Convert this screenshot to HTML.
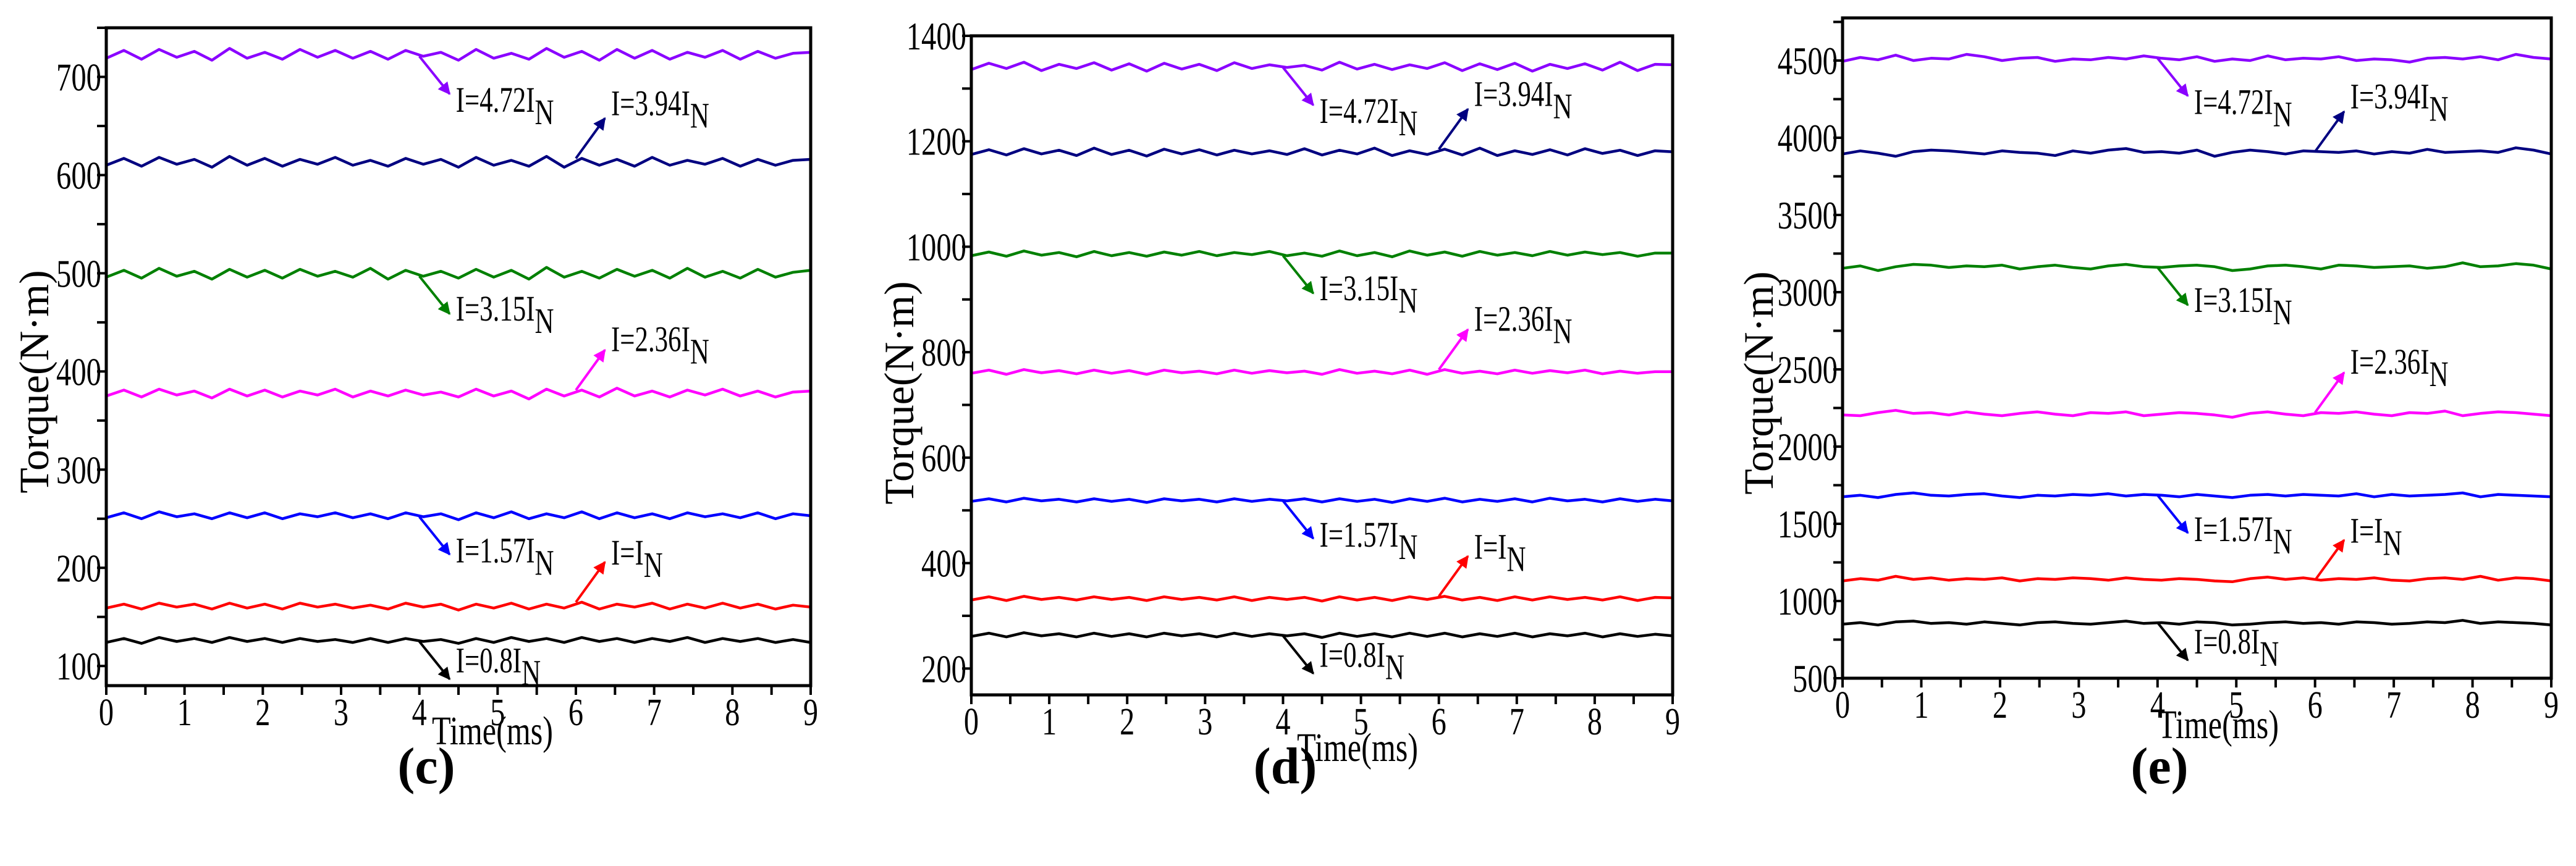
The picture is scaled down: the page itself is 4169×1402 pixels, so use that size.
<!DOCTYPE html>
<html><head><meta charset="utf-8"><style>
html,body{margin:0;padding:0;background:#fff;}
svg{display:block;font-family:"Liberation Serif","DejaVu Serif",serif;}
</style></head>
<body>
<svg id="fig" width="4169" height="1402" viewBox="0 0 4169 1402" xmlns="http://www.w3.org/2000/svg" font-family="'Liberation Serif', serif"></svg>
<script>
// ---------- data ----------
const timeMs = [0,0.225,0.45,0.675,0.9,1.125,1.35,1.575,1.8,2.025,2.25,2.475,2.7,2.925,3.15,3.375,3.6,3.825,4.05,4.275,4.5,4.725,4.95,5.175,5.4,5.625,5.85,6.075,6.3,6.525,6.75,6.975,7.2,7.425,7.65,7.875,8.1,8.325,8.55,8.775,9];
const seriesLabels = ["4.72","3.94","3.15","2.36","1.57","","0.8"];
const seriesColors = ["#8a00ff","#000080","#008000","#ff00ff","#0000ff","#ff0000","#000000"];

// panel (c)
const cPurple=[719,727,718,728,720,726,717,729,719,725,718,728,720,727,719,726,718,727,721,725,717,728,719,724,718,729,720,726,717,728,719,727,718,725,720,727,718,726,719,724,725];
const cNavy=[610,617,609,618,611,616,608,619,610,617,609,616,611,618,610,615,609,617,611,616,608,618,610,615,609,619,608,617,610,616,609,618,610,615,611,617,609,616,610,615,616];
const cGreen=[496,503,495,505,497,502,494,504,496,503,495,504,497,502,496,505,494,503,497,502,495,504,496,503,494,506,496,502,495,504,497,503,495,505,496,502,495,504,496,501,503];
const cMagenta=[375,381,374,382,376,380,373,382,375,381,374,380,376,382,374,380,375,381,376,379,374,382,375,380,372,382,375,381,374,383,375,380,374,381,376,382,375,380,374,379,380];
const cBlue=[251,256,250,257,252,255,250,256,251,256,250,255,252,256,251,255,250,256,252,255,249,256,251,257,250,255,251,257,250,256,251,255,250,256,252,255,251,256,250,255,253];
const cRed=[159,163,158,164,160,163,158,164,159,163,158,164,160,163,159,162,158,164,160,163,157,163,159,164,158,163,159,165,158,163,160,164,158,163,159,164,159,163,158,162,160];
const cBlack=[124,128,123,129,125,128,124,129,125,128,124,128,125,127,124,128,124,128,125,127,123,128,124,129,125,128,124,129,125,128,124,128,125,129,124,128,125,128,124,127,124];
const cTicks=[100,200,300,400,500,600,700];

// panel (d)
const dPurple=[1336,1348,1338,1350,1334,1346,1338,1349,1335,1347,1333,1348,1337,1346,1334,1349,1338,1345,1340,1344,1335,1350,1337,1346,1336,1345,1338,1349,1334,1347,1336,1348,1333,1346,1338,1347,1335,1350,1334,1346,1345];
const dNavy=[1175,1184,1174,1186,1176,1183,1173,1187,1175,1183,1172,1185,1176,1184,1174,1183,1176,1182,1175,1186,1174,1183,1176,1187,1173,1182,1175,1185,1174,1187,1173,1182,1175,1184,1174,1186,1177,1183,1173,1182,1180];
const dGreen=[983,990,982,992,984,989,981,991,983,989,982,990,984,991,983,989,985,991,983,988,982,992,983,989,981,992,984,990,982,991,984,989,983,991,984,990,985,989,982,988,988];
const dMagenta=[760,766,758,767,761,765,759,766,760,765,758,766,761,764,759,766,760,765,761,764,758,767,760,764,759,766,758,767,760,764,759,766,760,765,761,766,759,764,760,763,763];
const dBlue=[517,522,516,523,518,521,516,522,517,521,515,522,518,521,516,522,517,521,518,522,516,522,517,521,515,522,517,523,516,521,517,522,516,523,518,521,516,522,517,521,518];
const dRed=[330,336,329,337,331,335,330,336,331,335,329,336,331,335,330,336,329,335,331,335,328,336,330,335,329,336,331,337,330,335,329,336,330,336,331,335,330,336,329,335,334];
const dBlack=[261,267,260,268,262,266,260,267,261,266,260,267,262,266,260,267,261,266,262,266,259,267,261,266,260,267,261,267,260,266,261,267,260,266,262,267,260,266,261,265,262];
const dTicks=[200,400,600,800,1000,1200,1400];

// panel (e)
const ePurple=[4495,4520,4505,4535,4500,4515,4510,4540,4525,4500,4515,4520,4495,4510,4505,4520,4510,4530,4515,4505,4525,4495,4510,4500,4530,4505,4515,4510,4525,4500,4510,4505,4490,4515,4520,4510,4525,4505,4540,4520,4510];
const eNavy=[3895,3915,3900,3880,3910,3920,3915,3905,3895,3915,3905,3900,3885,3915,3900,3920,3930,3905,3910,3900,3920,3880,3905,3920,3910,3895,3915,3910,3905,3915,3895,3910,3900,3925,3905,3910,3915,3905,3935,3920,3895];
const eGreen=[3155,3170,3140,3165,3180,3175,3160,3170,3165,3175,3150,3165,3175,3160,3150,3170,3180,3165,3160,3170,3175,3165,3140,3150,3170,3175,3165,3150,3175,3170,3160,3165,3170,3155,3165,3190,3165,3170,3185,3175,3150];
const eMagenta=[2205,2200,2220,2235,2215,2220,2205,2225,2210,2200,2215,2225,2210,2200,2220,2215,2225,2200,2210,2220,2215,2205,2190,2215,2225,2210,2200,2220,2215,2225,2210,2200,2220,2215,2230,2200,2215,2225,2220,2210,2200];
const eBlue=[1675,1685,1670,1690,1700,1685,1680,1690,1695,1680,1670,1685,1680,1690,1685,1695,1680,1690,1685,1675,1690,1680,1670,1685,1690,1680,1690,1685,1680,1695,1675,1690,1680,1685,1690,1700,1675,1690,1685,1680,1675];
const eRed=[1130,1145,1135,1160,1140,1150,1135,1145,1140,1150,1130,1145,1140,1150,1145,1135,1150,1140,1135,1145,1140,1130,1125,1145,1155,1140,1150,1135,1145,1140,1150,1135,1130,1145,1150,1140,1160,1135,1150,1145,1130];
const eBlack=[850,860,845,865,870,855,860,850,865,855,845,860,865,855,850,860,870,855,860,850,865,860,845,850,860,865,855,860,850,865,860,850,855,865,860,875,855,865,860,855,845];
const eTicks=[500,1000,1500,2000,2500,3000,3500,4000,4500];

const xTicks=[0,1,2,3,4,5,6,7,8,9];
const arrowTimes=[4.0,6.0,4.0,6.0,4.0,6.0,4.0];
const arrowDown=[true,false,true,false,true,false,true];

// ---------- layout ----------
const FONT="'Liberation Serif', 'DejaVu Serif', serif";
const labelBaseOff=[29,-5,11,2,13,4,-11];
const panels=[
 {id:"c",L:172,R:1312,T:45,B:1110,ymin:80,ymax:750,minor:50,ticks:cTicks,
  series:[cPurple,cNavy,cGreen,cMagenta,cBlue,cRed,cBlack],
  titleX:54,titleY:618,timeX:797,timeY:1205,capX:690,capY:1268},
 {id:"d",L:1572,R:2707,T:58,B:1125,ymin:150,ymax:1400,minor:100,ticks:dTicks,
  series:[dPurple,dNavy,dGreen,dMagenta,dBlue,dRed,dBlack],
  titleX:1454,titleY:636,timeX:2197,timeY:1232,capX:2080,capY:1268},
 {id:"e",L:2982,R:4129,T:29,B:1098,ymin:500,ymax:4776,minor:250,ticks:eTicks,
  series:[ePurple,eNavy,eGreen,eMagenta,eBlue,eRed,eBlack],
  titleX:2845,titleY:620,timeX:3590,timeY:1195,capX:3495,capY:1268}
];
const NS="http://www.w3.org/2000/svg";
const svg=document.getElementById("fig");
function mk(tag,attrs,parent){const e=document.createElementNS(NS,tag);for(const k in attrs)e.setAttribute(k,attrs[k]);(parent||svg).appendChild(e);return e;}

const defs=mk("defs",{});
seriesColors.forEach((c,i)=>{
  const m=mk("marker",{id:"ah"+i,viewBox:"0 0 10 10",refX:"9",refY:"5",markerWidth:"5",markerHeight:"5",orient:"auto",markerUnits:"strokeWidth"},defs);
  mk("path",{d:"M0,0 L10,5 L0,10 z",fill:c},m);
});

panels.forEach(p=>{
  const g=mk("g",{"font-family":FONT});
  
  
  const sx=t=>p.L+(t-0)/(9-0)*(p.R-p.L);
  const sy=v=>p.B-(v-p.ymin)/(p.ymax-p.ymin)*(p.B-p.T);

  p.series.forEach((vals,si)=>{
    let d="";
    vals.forEach((v,k)=>{d+=(k?"L":"M")+sx(timeMs[k]).toFixed(1)+","+sy(v).toFixed(1);});
    const path=mk("path",{d:d,fill:"none",stroke:seriesColors[si],"stroke-width":"4.5","stroke-linejoin":"round"},g);
    
    
  });

  const fr=mk("rect",{x:p.L,y:p.T,width:p.R-p.L,height:p.B-p.T,fill:"none",stroke:"#000","stroke-width":"5"},g);
  
  

  for(let t=0;t<=9;t+=0.5){
    mk("line",{x1:sx(t),x2:sx(t),y1:p.B,y2:p.B+15,stroke:"#000","stroke-width":"4"},g);
  }
  xTicks.forEach(t=>{
    const tx=mk("text",{x:0,y:0,"font-family":FONT,"font-size":"62","text-anchor":"middle",transform:`translate(${sx(t)},${p.B+64}) scale(0.78,1)`},g);
    tx.textContent=t;
    
    
  });
  for(let v=Math.ceil(p.ymin/p.minor)*p.minor; v<=p.ymax; v+=p.minor){
    mk("line",{x1:p.L-15,x2:p.L,y1:sy(v),y2:sy(v),stroke:"#000","stroke-width":"4"},g);
  }
  p.ticks.forEach(v=>{
    const tx=mk("text",{x:0,y:0,"font-family":FONT,"font-size":"64","text-anchor":"end",transform:`translate(${p.L-8},${sy(v)+22}) scale(0.76,1)`},g);
    tx.textContent=v;
    
    
  });

  const yt=mk("text",{x:0,y:0,"font-family":FONT,"font-size":"68","text-anchor":"middle",transform:`translate(${p.titleX+24},${p.titleY}) rotate(-90)`},g);
  yt.textContent="Torque(N\u00B7m)";
  
  
  const xt=mk("text",{x:0,y:0,"font-family":FONT,"font-size":"66","text-anchor":"middle",transform:`translate(${p.timeX},${p.timeY}) scale(0.76,1)`},g);
  xt.textContent="Time(ms)";
  
  

  const cap=mk("text",{x:p.capX,y:p.capY,"font-family":FONT,"font-size":"84","font-weight":"bold","text-anchor":"middle"},g);
  cap.textContent="("+p.id+")";
  
  

  p.series.forEach((vals,si)=>{
    const t0=arrowTimes[si];
    let k=0;for(let j=0;j<timeMs.length;j++){if(Math.abs(timeMs[j]-t0)<Math.abs(timeMs[k]-t0))k=j;}
    const x1=sx(t0), y1=sy(vals[k]);
    const down=arrowDown[si];
    const x2=x1+(down?49:47), y2=y1+(down?61:-65);
    const ar=mk("line",{x1:x1,y1:y1,x2:x2,y2:y2,stroke:seriesColors[si],"stroke-width":"4","marker-end":"url(#ah"+si+")"},g);
    
    
    const tx=mk("text",{x:0,y:0,"font-family":FONT,"font-size":"58",transform:`translate(${x2+10},${y2+labelBaseOff[si]}) scale(0.74,1)`},g);
    const lab=seriesLabels[si];
    tx.appendChild(document.createTextNode(lab? "I="+lab+"I" : "I=I"));
    const sub=mk("tspan",{dy:"20"},tx);
    sub.textContent="N";
    
    
  });
});
</script>
</body></html>
